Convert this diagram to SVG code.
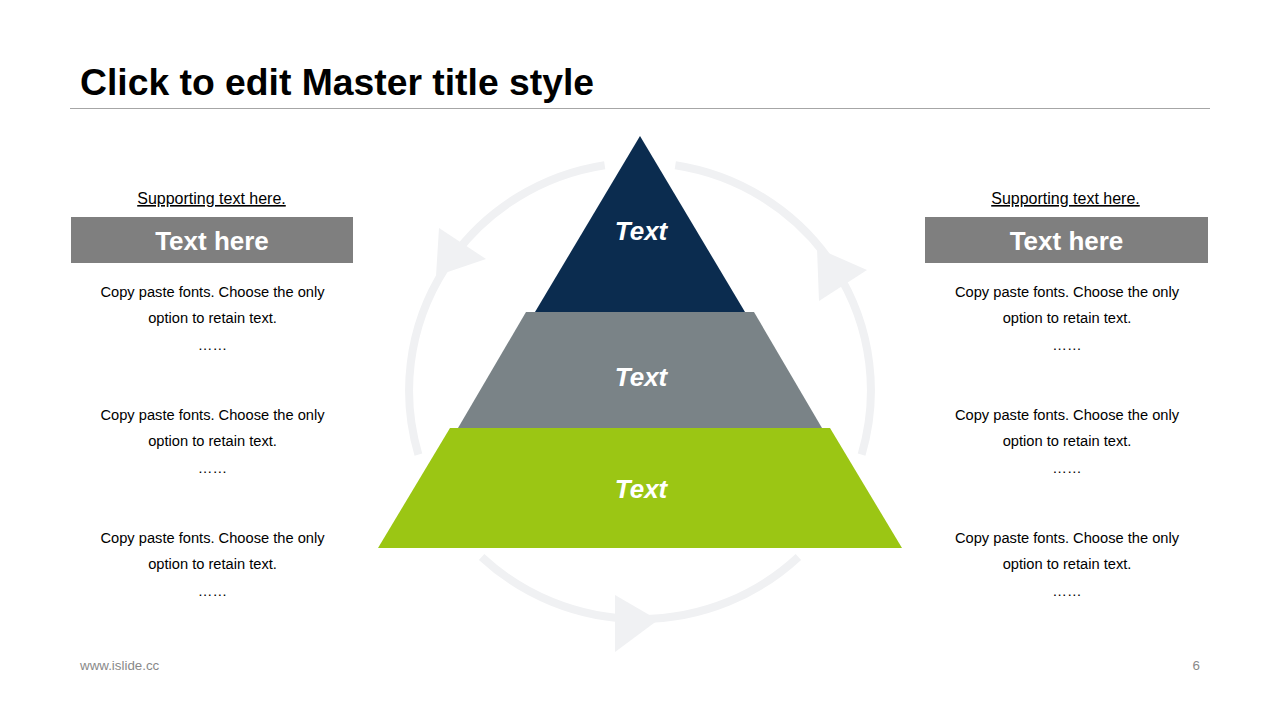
<svg xmlns="http://www.w3.org/2000/svg" width="1280" height="720" viewBox="0 0 1280 720">
<style>
.title{font-family:"Liberation Sans",Arial,sans-serif;font-weight:bold;font-size:37.3px;fill:#000}
.sup{font-family:"Liberation Sans",Arial,sans-serif;font-size:16px;fill:#000;text-decoration:underline}
.hdr{font-family:"Liberation Sans",Arial,sans-serif;font-weight:bold;font-size:26px;fill:#fff}
.body{font-family:"Liberation Sans",Arial,sans-serif;font-size:14.67px;fill:#000}
.lvl{font-family:"Liberation Sans",Arial,sans-serif;font-weight:bold;font-style:italic;font-size:26px;fill:#fff}
.foot{font-family:"Liberation Sans",Arial,sans-serif;font-size:13.33px;fill:#898989}
.ring{fill:none;stroke:#f0f1f3;stroke-width:8}
.head{fill:#f0f1f3}
.box{fill:#7f7f7f}
</style>
<rect width="1280" height="720" fill="#fff"/>
<g id="title">
<text class="title" x="80" y="95">Click to edit Master title style</text>
<line x1="70" y1="108.5" x2="1210" y2="108.5" stroke="#a6a6a6" stroke-width="1"/>
</g>
<g id="connectors">
<path class="ring" d="M 604.7 165.2 A 231 228 0 0 0 418.4 454.6"/>
<path class="ring" d="M 675.3 165.2 A 231 228 0 0 1 861.6 454.6"/>
<path class="ring" d="M 481.6 557 A 231 228 0 0 0 798.4 557"/>
<polygon class="head" points="439,228 486,259 436,276"/>
<polygon class="head" points="817,248 867,270 819,301"/>
<polygon class="head" points="615,595 658,620 615,652"/>
</g>
<g id="level-top">
<polygon points="640,136 745,312 535,312" fill="#0b2c4f"/>
<text class="lvl" x="641" y="240" text-anchor="middle">Text</text>
</g>
<g id="level-middle">
<polygon points="526,312 754,312 822,428 458,428" fill="#7a8387"/>
<text class="lvl" x="641" y="386" text-anchor="middle">Text</text>
</g>
<g id="level-bottom">
<polygon points="450,428 830,428 902,548 378,548" fill="#9bc614"/>
<text class="lvl" x="641" y="498" text-anchor="middle">Text</text>
</g>
<g id="left-panel">
<text class="sup" x="211.5" y="204" text-anchor="middle">Supporting text here.</text>
<rect class="box" x="71" y="217" width="282" height="46"/>
<text class="hdr" x="212" y="250" text-anchor="middle">Text here</text>
<text class="body" x="212.5" y="297" text-anchor="middle">Copy paste fonts. Choose the only</text>
<text class="body" x="212.5" y="323" text-anchor="middle">option to retain text.</text>
<text class="body" x="212.5" y="350" text-anchor="middle">……</text>
<text class="body" x="212.5" y="420" text-anchor="middle">Copy paste fonts. Choose the only</text>
<text class="body" x="212.5" y="446" text-anchor="middle">option to retain text.</text>
<text class="body" x="212.5" y="473" text-anchor="middle">……</text>
<text class="body" x="212.5" y="543" text-anchor="middle">Copy paste fonts. Choose the only</text>
<text class="body" x="212.5" y="569" text-anchor="middle">option to retain text.</text>
<text class="body" x="212.5" y="596" text-anchor="middle">……</text>
</g>
<g id="right-panel">
<text class="sup" x="1065.5" y="204" text-anchor="middle">Supporting text here.</text>
<rect class="box" x="925" y="217" width="283" height="46"/>
<text class="hdr" x="1066.5" y="250" text-anchor="middle">Text here</text>
<text class="body" x="1067" y="297" text-anchor="middle">Copy paste fonts. Choose the only</text>
<text class="body" x="1067" y="323" text-anchor="middle">option to retain text.</text>
<text class="body" x="1067" y="350" text-anchor="middle">……</text>
<text class="body" x="1067" y="420" text-anchor="middle">Copy paste fonts. Choose the only</text>
<text class="body" x="1067" y="446" text-anchor="middle">option to retain text.</text>
<text class="body" x="1067" y="473" text-anchor="middle">……</text>
<text class="body" x="1067" y="543" text-anchor="middle">Copy paste fonts. Choose the only</text>
<text class="body" x="1067" y="569" text-anchor="middle">option to retain text.</text>
<text class="body" x="1067" y="596" text-anchor="middle">……</text>
</g>
<g id="footer">
<text class="foot" x="80" y="670">www.islide.cc</text>
<text class="foot" x="1200" y="670" text-anchor="end">6</text>
</g>
</svg>
